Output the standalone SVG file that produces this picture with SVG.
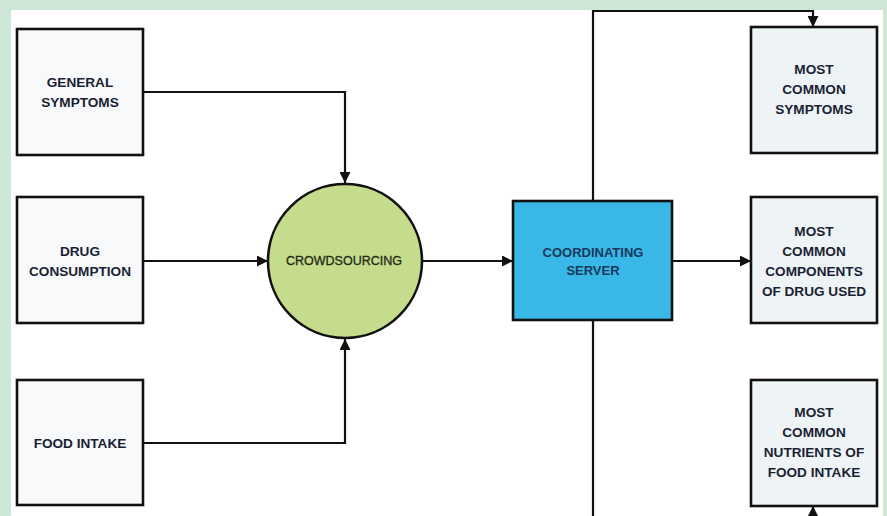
<svg xmlns="http://www.w3.org/2000/svg" width="887" height="516" viewBox="0 0 887 516">
<style>
.box{stroke:#111;stroke-width:2.6}
.lbox{fill:#f7f9fb}
.rbox{fill:#eef4f6}
.t{font-family:"Liberation Sans",Arial,sans-serif;font-weight:bold;font-size:13.6px;fill:#1b1f33;text-anchor:middle;dominant-baseline:central}
.c{fill:none;stroke:#111;stroke-width:2.2}
</style>
<defs>
<marker id="ah" markerUnits="userSpaceOnUse" markerWidth="11" markerHeight="11" refX="11" refY="5.5" orient="auto">
<path d="M0,0 L11,5.5 L0,11 z" fill="#111"/>
</marker>
</defs>
<rect x="0" y="0" width="887" height="516" fill="#cde6d5"/>
<rect x="11" y="10" width="872" height="506" fill="#ffffff"/>
<g id="connectors">
<path class="c" d="M143,92 H345 V183" marker-end="url(#ah)"/>
<path class="c" d="M143,261 H268" marker-end="url(#ah)"/>
<path class="c" d="M143,443 H345 V339" marker-end="url(#ah)"/>
<path class="c" d="M422,261 H513" marker-end="url(#ah)"/>
<path class="c" d="M593,201 V11 H813 V27" marker-end="url(#ah)"/>
<path class="c" d="M672,261 H751" marker-end="url(#ah)"/>
<path class="c" d="M593,320 V520"/>
<path class="c" d="M813,530 V506" marker-end="url(#ah)"/>
</g>
<g id="general-symptoms">
<rect class="box lbox" x="17" y="29" width="126" height="126"/>
<text class="t" x="80" y="82">GENERAL</text>
<text class="t" x="80" y="102">SYMPTOMS</text>
</g>
<g id="drug-consumption">
<rect class="box lbox" x="17" y="197" width="126" height="126"/>
<text class="t" x="80" y="251">DRUG</text>
<text class="t" x="80" y="271">CONSUMPTION</text>
</g>
<g id="food-intake">
<rect class="box lbox" x="17" y="380" width="126" height="125"/>
<text class="t" x="80" y="443">FOOD INTAKE</text>
</g>
<g id="crowdsourcing">
<circle cx="345" cy="261" r="77" fill="#c5dc8c" stroke="#111" stroke-width="2.6"/>
<text class="t" x="344" y="261" style="font-weight:normal;font-size:12.5px;fill:#1f2a14;stroke:#1f2a14;stroke-width:0.3">CROWDSOURCING</text>
</g>
<g id="coordinating-server">
<rect class="box" x="513" y="201" width="159" height="119" fill="#39b7e6"/>
<text class="t" x="593" y="252" style="fill:#173a5c;font-size:13px">COORDINATING</text>
<text class="t" x="593" y="270" style="fill:#173a5c;font-size:13px">SERVER</text>
</g>
<g id="most-common-symptoms">
<rect class="box rbox" x="751" y="27" width="126" height="126"/>
<text class="t" x="814" y="69">MOST</text>
<text class="t" x="814" y="89">COMMON</text>
<text class="t" x="814" y="109">SYMPTOMS</text>
</g>
<g id="most-common-components">
<rect class="box rbox" x="751" y="197" width="126" height="126"/>
<text class="t" x="814" y="231">MOST</text>
<text class="t" x="814" y="251">COMMON</text>
<text class="t" x="814" y="271">COMPONENTS</text>
<text class="t" x="814" y="291">OF DRUG USED</text>
</g>
<g id="most-common-nutrients">
<rect class="box rbox" x="751" y="380" width="126" height="126"/>
<text class="t" x="814" y="412">MOST</text>
<text class="t" x="814" y="432">COMMON</text>
<text class="t" x="814" y="452">NUTRIENTS OF</text>
<text class="t" x="814" y="472">FOOD INTAKE</text>
</g>
</svg>
